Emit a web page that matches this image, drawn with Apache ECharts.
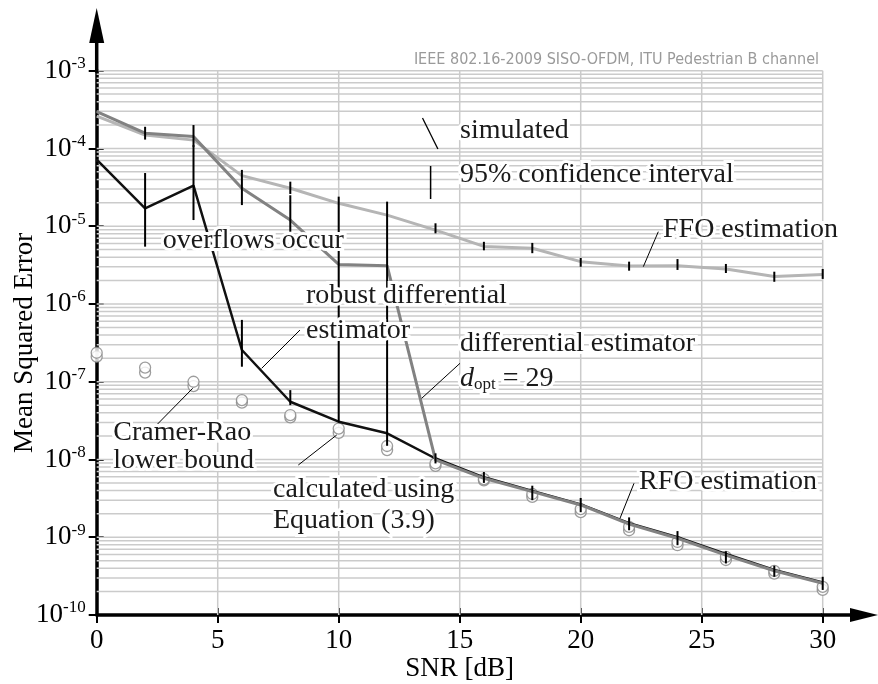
<!DOCTYPE html>
<html><head><meta charset="utf-8">
<script src="https://cdn.jsdelivr.net/npm/echarts@6/dist/echarts.min.js"></script>
<style>html,body{margin:0;padding:0;background:#fff}#c{width:878px;height:684px}</style>
</head><body><div id="c"></div>
<script>
// ---------------- data ----------------
const snr = [0,2,4,6,8,10,12,14,16,18,20,22,24,26,28,30];
const ffoMse      = [2.61e-4,1.49e-4,1.28e-4,4.47e-5,3.08e-5,1.97e-5,1.39e-5,8.9e-6,5.5e-6,5.2e-6,3.5e-6,3.08e-6,3.11e-6,2.82e-6,2.25e-6,2.4e-6];
const ffoLow      = [null,1.3e-4,1.05e-4,null,2.6e-5,null,null,8.1e-6,4.9e-6,4.5e-6,3.01e-6,2.68e-6,2.74e-6,2.5e-6,1.93e-6,2.1e-6];
const ffoHigh     = [null,1.9e-4,2.0e-4,null,3.74e-5,null,null,1.09e-5,6.3e-6,6.1e-6,3.9e-6,3.5e-6,3.78e-6,3.27e-6,2.6e-6,2.82e-6];
const diffMse     = [2.97e-4,1.57e-4,1.42e-4,3.08e-5,1.2e-5,3.23e-6,3.11e-6,9.9e-9,5.73e-9,3.86e-9,2.6e-9,1.48e-9,9.7e-10,5.9e-10,3.71e-10,2.56e-10];
const diffLow     = [null,null,null,1.87e-5,8.5e-6,null,null,null,null,null,null,null,null,null,null,null];
const diffHigh    = [null,null,null,5.3e-5,2.5e-5,null,null,null,null,null,null,null,null,null,null,null];
const robustMse   = [7.2e-5,1.7e-5,3.32e-5,2.56e-7,5.53e-8,3.06e-8,2.17e-8,1.03e-8,5.9e-9,3.95e-9,2.65e-9,1.52e-9,1.0e-9,6.1e-10,3.8e-10,2.62e-10];
const robustLow   = [null,5.46e-6,1.2e-5,1.56e-7,5.0e-8,3.0e-8,1.5e-8,8.9e-9,5.0e-9,3.0e-9,2.1e-9,1.23e-9,7.9e-10,4.6e-10,3.1e-10,2.1e-10];
const robustHigh  = [null,4.83e-5,1.1e-4,6.24e-7,7.8e-8,2.4e-5,2.07e-5,1.2e-8,6.9e-9,4.6e-9,3.2e-9,1.8e-9,1.2e-9,6.6e-10,4.3e-10,3.1e-10];
const calcMse     = [2.36e-7,1.52e-7,1.0e-7,5.8e-8,3.73e-8,2.5e-8,1.49e-8,8.9e-9,5.6e-9,3.6e-9,2.3e-9,1.36e-9,8.7e-10,5.6e-10,3.7e-10,2.3e-10];
const crlbMse     = [2.1e-7,1.31e-7,8.8e-8,5.4e-8,3.48e-8,2.2e-8,1.32e-8,8.3e-9,5.4e-9,3.3e-9,2.1e-9,1.23e-9,7.9e-10,5.1e-10,3.4e-10,2.1e-10];
const xTickValues = [0,5,10,15,20,25,30];
const yDecades    = [-10,-9,-8,-7,-6,-5,-4,-3];
const minorMults  = [2,3,4,5,6,7,8,9];

// ---------------- helpers ----------------
const SERIF = '"Liberation Serif","Times New Roman",serif';
const pairs = (ys) => snr.map((x, i) => [x, ys[i]]);
const bars = (lo, hi) => snr.map((x, i) => [x, lo[i], hi[i]]).filter(d => d[1] != null);
const xMin = xTickValues[0], xMax = xTickValues[xTickValues.length - 1];
const yMin = Math.pow(10, yDecades[0]), yMax = Math.pow(10, yDecades[yDecades.length - 1]);

const hGridVals = [];
yDecades.forEach((e, k) => {
  if (k > 0) hGridVals.push(Math.pow(10, e));
  if (k < yDecades.length - 1) minorMults.forEach(m => hGridVals.push(m * Math.pow(10, e)));
});
const vGridVals = xTickValues.slice(1);

const GRID_STYLE = { stroke: '#cbcbcb', lineWidth: 1.5 };
function hGridRender(params, api) {
  const v = api.value(1);
  const p1 = api.coord([xMin, v]), p2 = api.coord([xMax, v]);
  return { type: 'line', shape: { x1: p1[0], y1: p1[1], x2: p2[0], y2: p2[1] }, style: GRID_STYLE };
}
function vGridRender(params, api) {
  const v = api.value(0);
  const p1 = api.coord([v, yMin]), p2 = api.coord([v, yMax]);
  return { type: 'line', shape: { x1: p1[0], y1: p1[1], x2: p2[0], y2: p2[1] }, style: GRID_STYLE };
}
function errRender(params, api) {
  const x = api.value(0);
  const p1 = api.coord([x, api.value(1)]);
  const p2 = api.coord([x, api.value(2)]);
  return { type: 'line', shape: { x1: p1[0], y1: p1[1], x2: p2[0], y2: p2[1] },
           style: { stroke: '#000', lineWidth: 2 } };
}

const tickLine = { lineStyle: { color: '#000', width: 2 } };

const option = {
  animation: false,
  backgroundColor: '#fff',
  title: {
    text: 'IEEE 802.16-2009 SISO-OFDM, ITU Pedestrian B channel',
    right: 54, top: 47,
    textStyle: { fontFamily: '"DejaVu Sans Condensed","DejaVu Sans",sans-serif', fontSize: 16, fontWeight: 'normal', color: '#9a9a9a' }
  },
  grid: { left: 96.7, right: 55.3, top: 70.7, bottom: 69, containLabel: false, outerBoundsMode: 'none' },
  xAxis: [{
    type: 'value', min: xMin, max: xMax, interval: 5,
    name: 'SNR [dB]', nameLocation: 'middle', nameGap: 40, nameMoveOverlap: false,
    nameTextStyle: { fontFamily: SERIF, fontSize: 27, color: '#000' },
    axisLine: { show: true, onZero: false, lineStyle: { color: '#000', width: 3.5 } },
    axisTick: Object.assign({ show: true, length: 8, inside: false }, tickLine),
    axisLabel: { fontFamily: SERIF, fontSize: 27, color: '#000', margin: 12 },
    splitLine: { show: false }
  }, {
    type: 'value', min: xMin, max: xMax, interval: 5, position: 'bottom',
    axisLine: { show: false }, axisLabel: { show: false }, splitLine: { show: false },
    axisTick: Object.assign({ show: true, length: 7, inside: true }, tickLine)
  }],
  yAxis: [{
    type: 'log', logBase: 10, min: yMin, max: yMax,
    name: 'Mean Squared Error', nameLocation: 'middle', nameGap: 58, nameRotate: 90, nameMoveOverlap: false,
    nameTextStyle: { fontFamily: SERIF, fontSize: 27, color: '#000' },
    axisLine: { show: true, onZero: false, lineStyle: { color: '#000', width: 3.5 } },
    axisTick: Object.assign({ show: true, length: 8, inside: false }, tickLine),
    axisLabel: {
      margin: 11,
      formatter: v => '{a|10}{b|' + Math.round(Math.log10(v)) + '}',
      rich: {
        a: { fontFamily: SERIF, fontSize: 27, color: '#000' },
        b: { fontFamily: SERIF, fontSize: 17, color: '#000', padding: [0, 0, 14, 0] }
      }
    },
    splitLine: { show: false }
  }, {
    type: 'log', logBase: 10, min: yMin, max: yMax, position: 'left',
    axisLine: { show: false }, axisLabel: { show: false }, splitLine: { show: false },
    axisTick: Object.assign({ show: true, length: 7, inside: true }, tickLine)
  }],
  series: [
    { type: 'custom', silent: true, z: 1, data: hGridVals.map(v => [xMin, v]), renderItem: hGridRender, encode: { x: 0, y: 1 } },
    { type: 'custom', silent: true, z: 1, data: vGridVals.map(v => [v, yMin]), renderItem: vGridRender, encode: { x: 0, y: 1 } },
    { name: 'CRLB', type: 'scatter', data: pairs(crlbMse), z: 2, symbol: 'circle', symbolSize: 11,
      itemStyle: { color: '#fff', borderColor: '#858585', borderWidth: 1.3 } },
    { name: 'calculated', type: 'scatter', data: pairs(calcMse), z: 2, symbol: 'circle', symbolSize: 11,
      itemStyle: { color: '#fff', borderColor: '#858585', borderWidth: 1.3 } },
    { name: 'FFO', type: 'line', data: pairs(ffoMse), z: 3, showSymbol: false,
      lineStyle: { color: '#b5b5b5', width: 3 } },
    { name: 'robust', type: 'line', data: pairs(robustMse), z: 3, showSymbol: false,
      lineStyle: { color: '#111', width: 2.5 } },
    { name: 'differential', type: 'line', data: pairs(diffMse), z: 3, showSymbol: false,
      lineStyle: { color: '#828282', width: 3 } },
    { type: 'custom', data: bars(ffoLow, ffoHigh), z: 4, renderItem: errRender, encode: { x: 0, y: [1, 2] } },
    { type: 'custom', data: bars(diffLow, diffHigh), z: 4, renderItem: errRender, encode: { x: 0, y: [1, 2] } },
    { type: 'custom', data: bars(robustLow, robustHigh), z: 4, renderItem: errRender, encode: { x: 0, y: [1, 2] } }
  ]
};

const chart = echarts.init(document.getElementById('c'), null, { renderer: 'canvas' });
chart.setOption(option);

// ---------------- decorations (arrows, annotations) ----------------
const T = chart.convertToPixel({ gridIndex: 0 }, [xMin, yMax]);
const R = chart.convertToPixel({ gridIndex: 0 }, [xMax, yMin]);

const g = [];
g.push({ type: 'line', z: 50, shape: { x1: T[0], y1: T[1] + 2, x2: T[0], y2: 40 }, style: { stroke: '#000', lineWidth: 3.5 } });
g.push({ type: 'polygon', z: 50, shape: { points: [[T[0] - 7.5, 43], [T[0] + 7.5, 43], [T[0], 8]] }, style: { fill: '#000' } });
g.push({ type: 'line', z: 50, shape: { x1: R[0] - 2, y1: R[1], x2: 852, y2: R[1] }, style: { stroke: '#000', lineWidth: 3.5 } });
g.push({ type: 'polygon', z: 50, shape: { points: [[850, R[1] - 7], [850, R[1] + 7], [878, R[1]]] }, style: { fill: '#000' } });

function leader(x1, y1, x2, y2) {
  g.push({ type: 'line', z: 40, shape: { x1, y1, x2, y2 }, style: { stroke: '#000', lineWidth: 1 } });
}
function label(text, x, y, rich) {
  const base = { text, x, y, font: '28px ' + SERIF, textVerticalAlign: 'middle', textAlign: 'left' };
  if (rich) base.rich = rich;
  g.push({ type: 'text', z: 41, style: Object.assign({}, base, { fill: '#fff', stroke: '#fff', lineWidth: 6 }) });
  g.push({ type: 'text', z: 42, style: Object.assign({}, base, { fill: '#1a1a1a' }) });
}

// legend-like key
g.push({ type: 'line', z: 40, shape: { x1: 422.5, y1: 118, x2: 437.9, y2: 149 }, style: { stroke: '#000', lineWidth: 1.3 } });
g.push({ type: 'line', z: 40, shape: { x1: 430.6, y1: 166, x2: 430.6, y2: 199 }, style: { stroke: '#000', lineWidth: 1.5 } });
label('simulated', 460, 131);
label('95% confidence interval', 460, 174.5);

leader(151.7, 430, 192.7, 388.3);
leader(261.7, 368.3, 300, 330);
leader(421.7, 398.3, 460, 363.3);
leader(298.3, 465, 336.7, 435);
leader(643.3, 266.7, 658.3, 231.7);
leader(620, 518.3, 634, 483.3);

label('overflows occur', 162.7, 241);
label('robust differential', 306, 296);
label('estimator', 306, 331);
label('differential estimator', 460, 344);
label('{i|d}{s|opt}{n| = 29}', 460, 379, {
  i: { fontFamily: SERIF, fontSize: 28, fontStyle: 'italic' },
  s: { fontFamily: SERIF, fontSize: 17, padding: [12, 0, 0, 0] },
  n: { fontFamily: SERIF, fontSize: 28 }
});
label('Cramer-Rao', 113.3, 433);
label('lower bound', 113.3, 461);
label('calculated using', 273, 489.5);
label('Equation (3.9)', 273, 521);
label('FFO estimation', 663, 229.5);
label('RFO estimation', 639, 482);

chart.setOption({ graphic: { elements: g } });
</script>
</body></html>
